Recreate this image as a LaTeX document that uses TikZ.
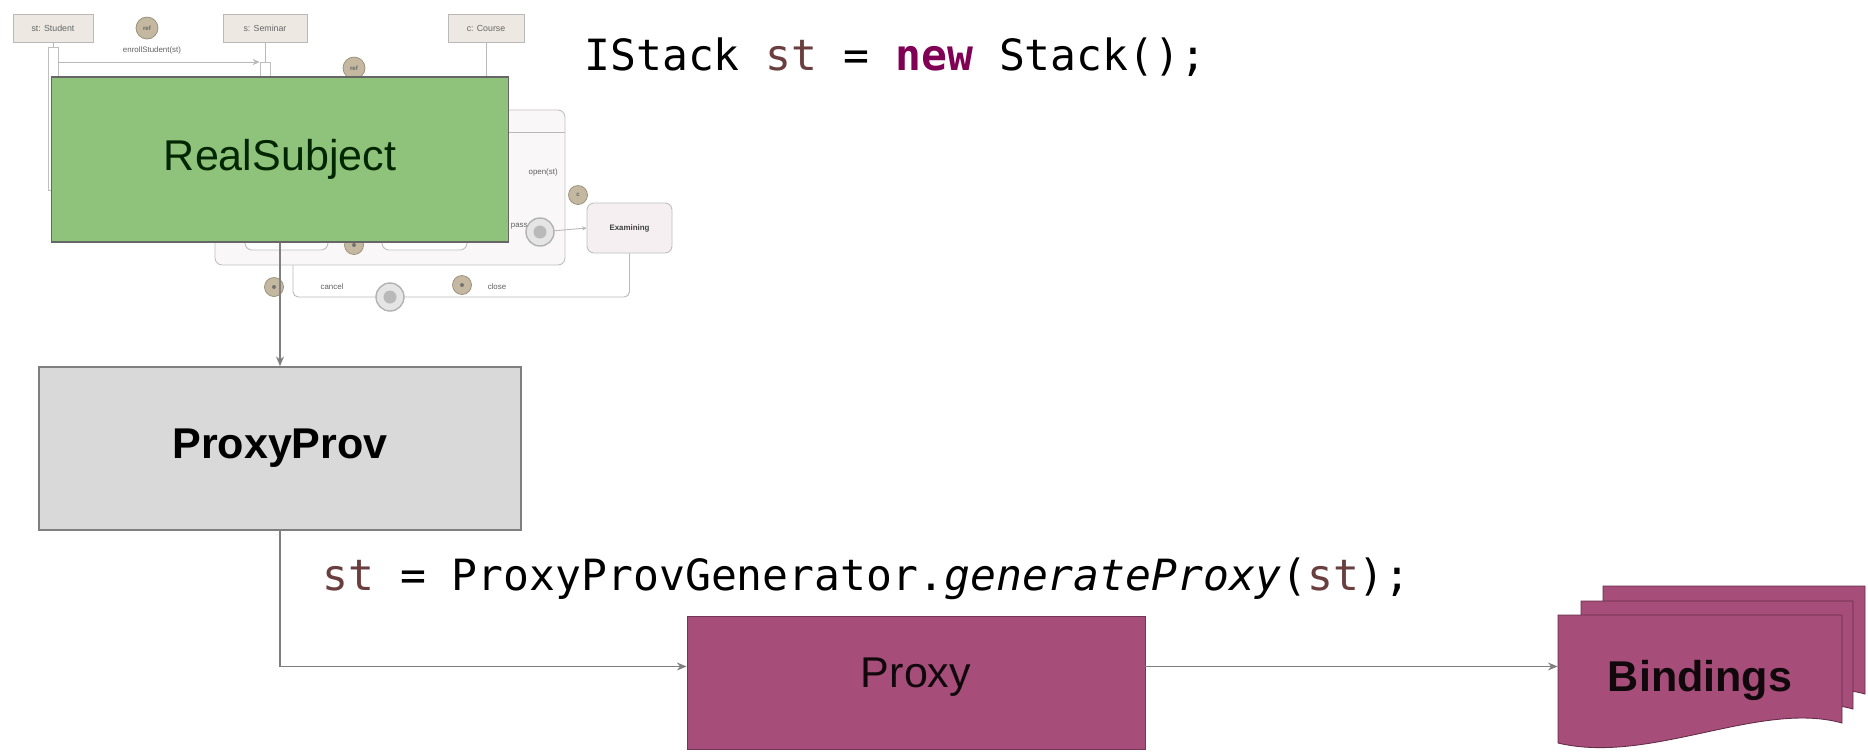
\documentclass[tikz,border=0pt]{standalone}
\usepackage{fontspec}
\setmainfont{Liberation Sans}
\setmonofont{DejaVu Sans Mono}
\usetikzlibrary{arrows.meta, positioning}
\definecolor{realgreen}{HTML}{8FC27A}
\definecolor{provgray}{HTML}{D9D9D9}
\definecolor{proxymauve}{HTML}{A64D79}
\definecolor{linegray}{HTML}{7F7F7F}
\definecolor{varbrown}{HTML}{6A3E3E}
\definecolor{kwpurple}{HTML}{7F0055}
\definecolor{umlbeige}{HTML}{EDE9E2}
\definecolor{umltan}{HTML}{D5C6A8}
\definecolor{umlpink}{HTML}{F5EFF1}
\newcommand\bigsans{\fontsize{24.5}{28}\selectfont}
\newcommand\tinysans{\fontsize{5}{6}\selectfont}

\begin{document}
\begin{tikzpicture}[x=0.02cm, y=0.02cm,
  realbox/.style={draw=black!60, line width=0.6pt, fill=realgreen, minimum width=9.16cm, minimum height=3.3cm, font=\bigsans, text=black!85!green},
  provbox/.style={draw=linegray, line width=1pt, fill=provgray, minimum width=9.64cm, minimum height=3.26cm, font=\bigsans\bfseries},
  proxybox/.style={draw=proxymauve!70!black, line width=0.5pt, fill=proxymauve, minimum width=9.16cm, minimum height=2.66cm, font=\bigsans, text=black!90!proxymauve},
  docsheet/.style={draw=proxymauve!60!black, line width=0.5pt, fill=proxymauve},
  codeline/.style={anchor=base west, font=\ttfamily\bigsans},
  conn/.style={draw=linegray, line width=1pt, -{Stealth[length=5.5pt,width=4.5pt]}},
  lifebox/.style={draw=gray!55, fill=umlbeige, line width=0.5pt, minimum height=0.56cm, font=\tinysans, text=gray!80!black},
  actbar/.style={draw=gray!50, fill=white, line width=0.4pt, minimum width=0.2cm},
  umlline/.style={draw=gray!55, line width=0.5pt},
  markdot/.style={circle, draw=umltan!70!black, fill=umltan!80!gray, line width=0.4pt, minimum size=0.38cm, font=\fontsize{3.5}{4}\selectfont\bfseries, text=black!60},
  markfull/.style={markdot, path picture={\fill[black!55] (path picture bounding box.center) circle (0.04cm);}},
  pseudo/.style={circle, draw=gray!60, fill=gray!20, line width=0.8pt, minimum size=0.56cm, path picture={\fill[gray!55] (path picture bounding box.center) circle (0.13cm);}},
  statebox/.style={draw=gray!50, fill=umlpink, rounded corners=4pt, line width=0.5pt},
  umltext/.style={font=\fontsize{4.5}{5}\selectfont, text=gray!75!black}]
\tikzstyle{every node}+=[inner sep=0pt]
\useasboundingbox (0,0) rectangle (1868,-752);
\fill[white] (0,0) rectangle (1868,-752);

\node[lifebox, minimum width=1.6cm] (student) at (53,-28) {st: Student};
\node[lifebox, minimum width=1.68cm] (seminar) at (265,-28) {s: Seminar};
\node[lifebox, minimum width=1.52cm] (course) at (486,-28) {c: Course};
\node[markdot, minimum size=0.44cm] (refa) at (147,-28) {ref};
\node[markdot, minimum size=0.44cm] (refb) at (354,-68) {ref};
\node[actbar, minimum height=2.86cm] (stact) at (53,-118.5) {};
\node[actbar, minimum height=0.76cm] (semact) at (265,-81) {};
\coordinate (msgy) at (0,-62);
\coordinate (courseend) at (486,-100);
\draw[umlline] (student.south) -- (stact.north);
\draw[umlline] (seminar.south) -- (semact.north);
\draw[umlline] (course.south) -- (courseend);
\draw[umlline, -{Stealth[length=4pt,width=3.5pt]}] (stact.east |- msgy) -- (semact.west |- msgy);
\node[umltext] (msglabel) at (152,-50) {enrollStudent(st)};

\node[statebox, fill=umlpink!50, minimum width=7cm, minimum height=3.1cm] (frame) at (390,-187.5) {};
\draw[umlline] (frame.west |- 0,-132) -- (frame.east |- 0,-132);
\node[statebox, fill=white, minimum width=1.66cm, minimum height=0.76cm] (statea) at (286.5,-231) {};
\node[statebox, fill=white, minimum width=1.7cm, minimum height=0.76cm] (stateb) at (424.5,-231) {};
\node[markfull] (markab) at (354,-245) {};
\node[umltext, anchor=east] (openlabel) at (558,-172) {open(st)};
\node[umltext, anchor=east] (passlabel) at (528,-226) {pass};
\node[pseudo] (exita) at (540,-232) {};
\node[markdot] (markc) at (578,-195) {c};
\node[statebox, minimum width=1.7cm, minimum height=1cm, font=\fontsize{4.5}{5}\selectfont\bfseries, text=black!75] (examining) at (629.5,-228) {Examining};
\draw[umlline, -{Stealth[length=2.5pt,width=2.5pt]}] (exita) -- (examining.west);
\coordinate (loopcorner) at (293,-297);
\draw[umlline, rounded corners=3pt] (examining.south) |- (loopcorner) -- (loopcorner |- frame.south);
\node[pseudo] (exitb) at (390,-297) {};
\node[umltext] (cancellabel) at (332,-287) {cancel};
\node[umltext] (closelabel) at (497,-287) {close};
\node[markfull] (markclose) at (462,-285) {};
\node[markfull] (markcancel) at (274,-287) {};

\node[realbox] (realsubject) at (280,-159.5) {RealSubject};
\node[provbox] (proxyprov) at (280,-448.5) {ProxyProv};
\node[proxybox] (proxy) at (916,-682.5) {\raisebox{0.38cm}{Proxy}};
\foreach \lx/\rx/\ty/\by in {1603/1865/586/694, 1581/1853/601/709, 1558/1842/615/723}
  \filldraw[docsheet] (\lx,-\ty) -- (\rx,-\ty) -- (\rx,-\by) .. controls (\rx-82,-\by+23) and (\lx+92,-\by-42) .. (\lx,-\by-20) -- cycle;
\node[minimum width=5.68cm, minimum height=2.6cm, font=\bigsans\bfseries, text=black!90!proxymauve] (bindings) at (1700,-680) {Bindings};

\draw[conn] (realsubject.south) -- (proxyprov.north);
\draw[conn] (proxyprov.south) |- (proxy.176);
\draw[conn] (proxy.4) -- (proxy.4 -| bindings.west);

\node[codeline] (decl) at (584,-70) {IStack \textcolor{varbrown}{st} = \textcolor{kwpurple}{\textbf{new}} Stack();};
\node[codeline] (gencall) at (322,-590) {\textcolor{varbrown}{st} = ProxyProvGenerator.\textit{generateProxy}(\textcolor{varbrown}{st});};
\end{tikzpicture}
\end{document}
